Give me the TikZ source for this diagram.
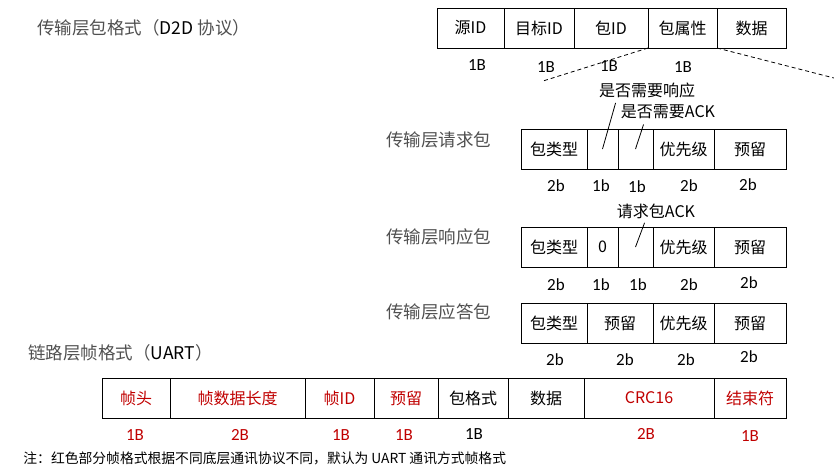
\documentclass[tikz,border=0pt]{standalone}
\usepackage{fontspec}
\setmainfont{Carlito}
\newfontfamily\cjk{Noto Sans CJK SC}
\usepackage{xcolor}
\usepackage{tikz}
\definecolor{frred}{RGB}{192,0,0}
\definecolor{headgray}{RGB}{80,80,80}

\begin{document}
\begin{tikzpicture}[x=1pt,y=-1pt,line width=0.8pt,
    field/.style={draw, anchor=north west, inner sep=0pt, outer sep=0pt,
        minimum height=40pt, font=\cjk\fontsize{16}{19}\selectfont},
    len/.style={inner sep=0pt, font=\fontsize{17}{20}\selectfont},
    head/.style={anchor=west, inner sep=0pt, text=headgray,
        font=\cjk\fontsize{17.5}{20}\selectfont},
    remark/.style={inner sep=0pt, font=\cjk\fontsize{16}{19}\selectfont},
    zoomline/.style={dash pattern=on 4pt off 3pt}]
    \useasboundingbox (0,0) rectangle (834,469);
    % transport layer packet (D2D)
    \node[head] (pkthead) at (37,28) {传输层包格式（{\color{black}D2D} 协议）};
    \node[field, minimum width=67pt] (srcid) at (437,8) {源ID};
    \node[field, minimum width=70pt] (dstid) at (504,8) {目标ID};
    \node[field, minimum width=74pt] (pktid) at (574,8) {包ID};
    \node[field, minimum width=69pt] (attr) at (648,8) {包属性};
    \node[field, minimum width=69pt] (data) at (717,8) {数据};
    \node[len] (srclen) at (477,65) {1B};
    \node[len] (dstlen) at (546,67) {1B};
    \node[len] (idlen) at (609,66) {1B};
    \node[len] (attrlen) at (683,67) {1B};
    \coordinate (zoomL) at (543,81);
    \coordinate (zoomR) at (834,78);
    \draw[zoomline] (attr.south west) -- (zoomL);
    \draw[zoomline] (attr.south east) -- (zoomR);
    % request packet
    \node[remark] (needresp) at (647,90) {是否需要响应};
    \node[remark] (needack) at (668,112) {是否需要ACK};
    \node[head] (reqhead) at (386,140) {传输层请求包};
    \node[field, minimum width=66pt] (reqtype) at (521,129) {包类型};
    \node[field, minimum width=31pt] (reqresp) at (587,129) {};
    \node[field, minimum width=35pt] (reqack) at (618,129) {};
    \node[field, minimum width=61pt] (reqprio) at (653,129) {优先级};
    \node[field, minimum width=72pt] (reqrsv) at (714,129) {预留};
    \draw (needresp.south west) ++(17,5) -- (reqresp.center);
    \draw (needack.south west) ++(23,5) -- (reqack.center);
    \node[len] (reql1) at (556,186) {2b};
    \node[len] (reql2) at (601,186) {1b};
    \node[len] (reql3) at (637,187) {1b};
    \node[len] (reql4) at (689,186) {2b};
    \node[len] (reql5) at (748,185) {2b};
    % response packet
    \node[remark] (reqackmark) at (656,211) {请求包ACK};
    \node[head] (rsphead) at (386,237) {传输层响应包};
    \node[field, minimum width=66pt] (rsptype) at (521,227) {包类型};
    \node[field, minimum width=31pt] (rspzero) at (587,227) {0};
    \node[field, minimum width=35pt] (rspack) at (618,227) {};
    \node[field, minimum width=61pt] (rspprio) at (653,227) {优先级};
    \node[field, minimum width=72pt] (rsprsv) at (714,227) {预留};
    \draw (reqackmark.south west) ++(28,4) -- (rspack.center);
    \node[len] (rspl1) at (556,285) {2b};
    \node[len] (rspl2) at (601,285) {1b};
    \node[len] (rspl3) at (638,285) {1b};
    \node[len] (rspl4) at (689,285) {2b};
    \node[len] (rspl5) at (749,283) {2b};
    % acknowledge packet
    \node[head] (ackhead) at (386,312) {传输层应答包};
    \node[field, minimum width=66pt] (acktype) at (521,303) {包类型};
    \node[field, minimum width=66pt] (ackrsv) at (587,303) {预留};
    \node[field, minimum width=61pt] (ackprio) at (653,303) {优先级};
    \node[field, minimum width=72pt] (ackrsv2) at (714,303) {预留};
    \node[len] (ackl1) at (555,360) {2b};
    \node[len] (ackl2) at (625,360) {2b};
    \node[len] (ackl3) at (686,360) {2b};
    \node[len] (ackl4) at (749,357) {2b};
    % link layer frame (UART)
    \node[head] (framehead) at (28,353) {链路层帧格式（{\color{black}UART}）};
    \node[field, text=frred, minimum width=68pt] (fhead) at (102,378) {帧头};
    \node[field, text=frred, minimum width=135pt] (flen) at (170,378) {帧数据长度};
    \node[field, text=frred, minimum width=69pt] (fid) at (305,378) {帧ID};
    \node[field, text=frred, minimum width=64pt] (frsv) at (374,378) {预留};
    \node[field, minimum width=70pt] (fpkt) at (438,378) {包格式};
    \node[field, minimum width=76pt] (fdata) at (508,378) {数据};
    \node[field, text=frred, minimum width=130pt] (fcrc) at (584,378) {CRC16};
    \node[field, text=frred, minimum width=72pt] (fend) at (714,378) {结束符};
    \node[len, text=frred] (fl1) at (135,435) {1B};
    \node[len, text=frred] (fl2) at (240,435) {2B};
    \node[len, text=frred] (fl3) at (341,435) {1B};
    \node[len, text=frred] (fl4) at (404,435) {1B};
    \node[len] (fl5) at (474,434) {1B};
    \node[len, text=frred] (fl6) at (646,434) {2B};
    \node[len, text=frred] (fl7) at (750,436) {1B};
    \node[anchor=west, inner sep=0pt, font=\cjk\fontsize{13.8}{16}\selectfont] (note) at (23,458)
        {注：红色部分帧格式根据不同底层通讯协议不同，默认为 UART 通讯方式帧格式};
\end{tikzpicture}
\end{document}
